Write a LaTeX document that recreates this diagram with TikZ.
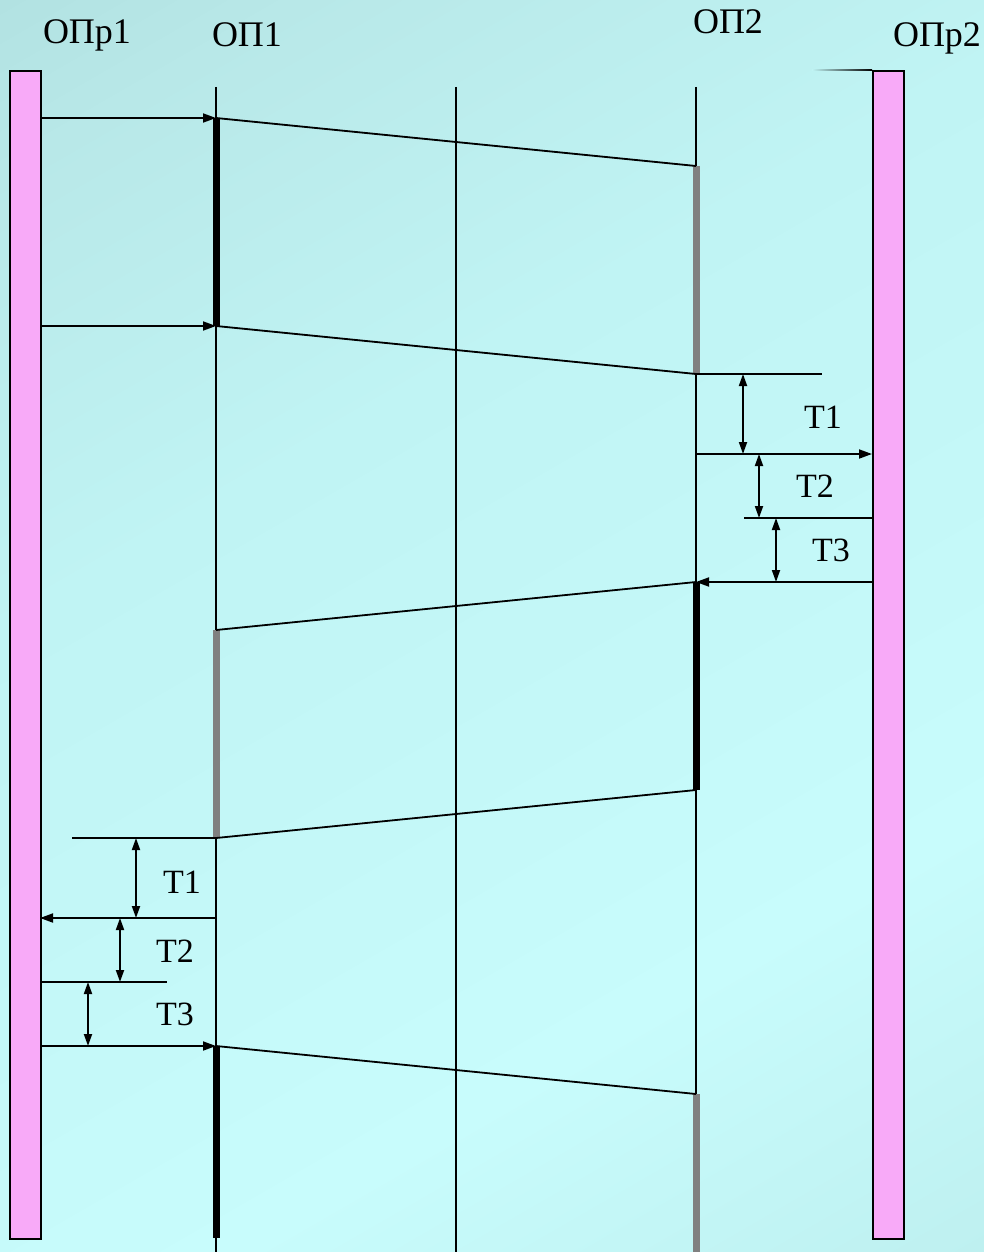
\documentclass[tikz,border=0pt]{standalone}
\usepackage{fontspec}
\setmainfont{Liberation Serif}
\usetikzlibrary{arrows.meta}
\definecolor{bg0}{RGB}{178,226,226}
\definecolor{bg1}{RGB}{184,232,232}
\definecolor{bg2}{RGB}{192,244,244}
\definecolor{bg3}{RGB}{196,248,248}
\definecolor{bg4}{RGB}{200,252,252}
\definecolor{bg5}{RGB}{190,240,240}
\definecolor{pinkbar}{RGB}{248,170,248}
\definecolor{graybar}{RGB}{128,128,128}
\pgfdeclarehorizontalshading{bgshade}{100bp}{color(0bp)=(bg0); color(25bp)=(bg0); color(29.8bp)=(bg1); color(42.4bp)=(bg2); color(53.6bp)=(bg3); color(63.1bp)=(bg4); color(75bp)=(bg5); color(100bp)=(bg5)}
\begin{document}
\begin{tikzpicture}[x=1pt,y=-1pt,
  ln/.style={line width=1.8pt},
  msg/.style={ln,-{Triangle[length=13pt,width=9pt]}},
  dim/.style={line width=1.8pt,{Triangle[length=12pt,width=8pt]}-{Triangle[length=12pt,width=8pt]}},
  actb/.style={line width=7pt,black},
  actg/.style={line width=7pt,graybar},
  lbl/.style={font=\fontsize{36}{40}\selectfont,inner sep=0pt},
  tl/.style={font=\fontsize{34}{40}\selectfont,inner sep=0pt},
  bar/.style={draw=black,line width=1.8pt,fill=pinkbar}]
\useasboundingbox (0,0) rectangle (984,1252);
\begin{scope}
\clip (0,0) rectangle (984,1252);
\shade[shading=bgshade,transform canvas={rotate=-60}] (0,-900) rectangle (1576,700);
\end{scope}

% labels
\node[lbl] (opr1) at (87,35) {ОПр1};
\node[lbl] (op1) at (247,35) {ОП1};
\node[lbl] (op2) at (728,22) {ОП2};
\node[lbl] (opr2) at (937,38) {ОПр2};

% pink bars
\node[bar,minimum width=31pt,minimum height=1168pt,inner sep=0pt,anchor=north west] (barL) at (9,70) {};
\node[bar,minimum width=31pt,minimum height=1168pt,inner sep=0pt,anchor=north west] (barR) at (872,70) {};
\shade[left color=bg2,right color=black] (812,69.1) rectangle (872,70.9);

% lifelines
\coordinate (p1t) at (216,87); \coordinate (p1b) at (216,1252);
\coordinate (mt) at (456,87); \coordinate (mb) at (456,1252);
\coordinate (p2t) at (696,87); \coordinate (p2b) at (696,1252);
\draw[ln] (p1t) -- (p1b);
\draw[ln] (mt) -- (mb);
\draw[ln] (p2t) -- (p2b);

% key points
\coordinate (a1) at (216,118); \coordinate (b1) at (696,166);
\coordinate (a2) at (216,326); \coordinate (b2) at (696,374);
\coordinate (b3) at (696,582); \coordinate (a3) at (216,630);
\coordinate (b4) at (696,790); \coordinate (a4) at (216,838);
\coordinate (a5) at (216,1046); \coordinate (b5) at (696,1094);
\coordinate (a6) at (216,1238); \coordinate (b6) at (696,1252);
\coordinate (l1) at (40,118); \coordinate (l2) at (40,326);

% activation bars
\draw[actb] (a1) -- (a2);
\draw[actg] (b1) -- (b2);
\draw[actb] (b3) -- (b4);
\draw[actg] (a3) -- (a4);
\draw[actb] (a5) -- (a6);
\draw[actg] (b5) -- (b6);

% messages
\draw[msg] (l1) -- (a1);
\draw[msg] (l2) -- (a2);
\draw[ln] (a1) -- (b1);
\draw[ln] (a2) -- (b2);
\draw[ln] (b3) -- (a3);
\draw[ln] (b4) -- (a4);
\draw[ln] (a5) -- (b5);

% right side timing
\coordinate (r1e) at (822,374);
\coordinate (r2s) at (696,454); \coordinate (r2e) at (872,454);
\coordinate (r3s) at (744,518); \coordinate (r3e) at (872,518);
\coordinate (r4s) at (872,582);
\draw[ln] (b2) -- (r1e);
\draw[msg] (r2s) -- (r2e);
\draw[ln] (r3s) -- (r3e);
\draw[msg] (r4s) -- (b3);
\coordinate (d1t) at (743,374); \coordinate (d1b) at (743,454);
\coordinate (d2t) at (759,454); \coordinate (d2b) at (759,518);
\coordinate (d3t) at (776,518); \coordinate (d3b) at (776,582);
\draw[dim] (d1t) -- (d1b);
\draw[dim] (d2t) -- (d2b);
\draw[dim] (d3t) -- (d3b);
\node[tl] (rt1) at (823,417) {T1};
\node[tl] (rt2) at (815,486) {T2};
\node[tl] (rt3) at (831,550) {T3};

% left side timing
\coordinate (s1s) at (72,838);
\coordinate (s2e) at (40,918); \coordinate (s2s) at (216,918);
\coordinate (s3s) at (40,982); \coordinate (s3e) at (167,982);
\coordinate (s4s) at (40,1046);
\draw[ln] (s1s) -- (a4);
\draw[msg] (s2s) -- (s2e);
\draw[ln] (s3s) -- (s3e);
\draw[msg] (s4s) -- (a5);
\coordinate (e1t) at (136,838); \coordinate (e1b) at (136,918);
\coordinate (e2t) at (120,918); \coordinate (e2b) at (120,982);
\coordinate (e3t) at (88,982); \coordinate (e3b) at (88,1046);
\draw[dim] (e1t) -- (e1b);
\draw[dim] (e2t) -- (e2b);
\draw[dim] (e3t) -- (e3b);
\node[tl] (lt1) at (182,882) {T1};
\node[tl] (lt2) at (175,951) {T2};
\node[tl] (lt3) at (175,1014) {T3};
\end{tikzpicture}
\end{document}
